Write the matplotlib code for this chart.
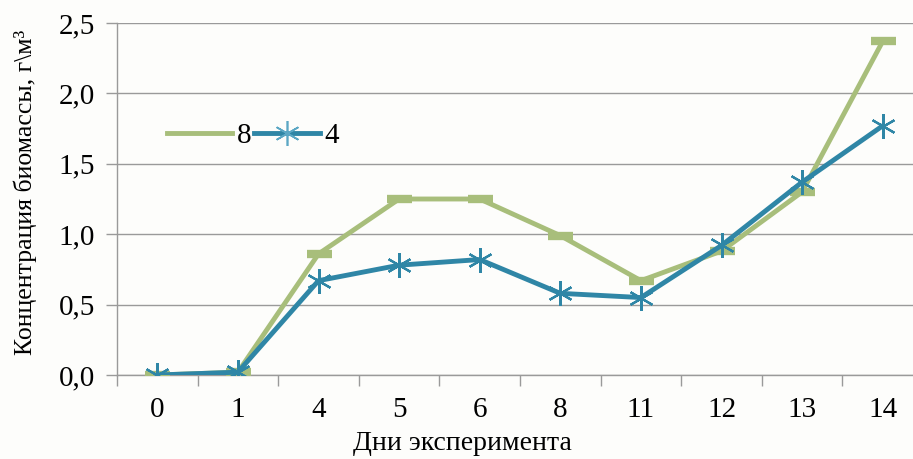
import numpy as np
import matplotlib
matplotlib.use("Agg")
import matplotlib.pyplot as plt
from matplotlib.lines import Line2D

# --- Data ---
days = ["0", "1", "4", "5", "6", "8", "11", "12", "13", "14"]
series_8 = [0.0, 0.02, 0.86, 1.25, 1.25, 0.99, 0.67, 0.88, 1.30, 2.37]
series_4 = [0.0, 0.02, 0.67, 0.78, 0.82, 0.58, 0.55, 0.92, 1.37, 1.77]
y_ticks = [0.0, 0.5, 1.0, 1.5, 2.0, 2.5]

GREEN = "#A8BE7B"
BLUE = "#2F86A6"
GRID = "#9A9A9A"

plt.rcParams["font.family"] = ["Liberation Serif", "DejaVu Serif"]

fig = plt.figure(figsize=(9.13, 4.59), dpi=100)
fig.patch.set_facecolor("#FDFDFB")
# plot area runs slightly past the right edge, as in the reference
ax = fig.add_axes([117 / 913, (459 - 375) / 459, 806 / 913, 352 / 459])
ax.set_facecolor("#FDFDFB")

x = np.arange(len(days))
ax.plot(x, series_8, color=GREEN, lw=3.5, marker="_", ms=18, mew=6,
        zorder=3, solid_capstyle="round")
ax.plot(x, series_4, color=BLUE, lw=3.5, marker=(6, 2, 0), ms=18, mew=1.6,
        zorder=4, solid_capstyle="round")

ax.set_xlim(-0.5, len(days) - 0.5)
ax.set_ylim(0, 2.5)
ax.set_yticks(y_ticks)
ax.set_yticklabels([f"{v:.1f}".replace(".", ",") for v in y_ticks])
ax.yaxis.grid(True, color=GRID, lw=1)
ax.set_axisbelow(True)

ax.set_xticks(x)
ax.set_xticklabels(days)
ax.set_xticks(np.arange(-0.5, len(days), 1), minor=True)
ax.tick_params(axis="x", which="major", length=0, pad=16, labelsize=21)
ax.tick_params(axis="x", which="minor", length=8, color=GRID, width=1)
ax.tick_params(axis="y", length=8, color=GRID, width=1, pad=8, labelsize=21)

for side in ["top", "right"]:
    ax.spines[side].set_visible(False)
for side in ["left", "bottom"]:
    ax.spines[side].set_color(GRID)
    ax.spines[side].set_linewidth(1)

ax.set_xlabel("Дни эксперимента", fontsize=20)
ax.xaxis.set_label_coords((462 - 117) / 806, -0.16)
ax.xaxis.label.set_va("top")
ax.set_ylabel("Концентрация биомассы, г\\м³", fontsize=18.5)
ax.yaxis.set_label_coords((25 - 117) / 806, (375 - 192) / 352)
ax.yaxis.label.set_va("center")

handles = [Line2D([], [], color=GREEN, lw=3.5),
           Line2D([], [], color=BLUE, lw=3.5, marker=(6, 2, 0), ms=18, mew=1.2,
                  markeredgecolor="#5BA7C4")]
ax.legend(handles, ["8", "4"], loc="center left", bbox_to_anchor=(0.047, 0.68),
          ncol=2, frameon=False, fontsize=21, handlelength=2.25,
          handletextpad=0.15, columnspacing=0.1, borderaxespad=0)

fig.savefig("out.png", dpi=100, facecolor=fig.get_facecolor())
